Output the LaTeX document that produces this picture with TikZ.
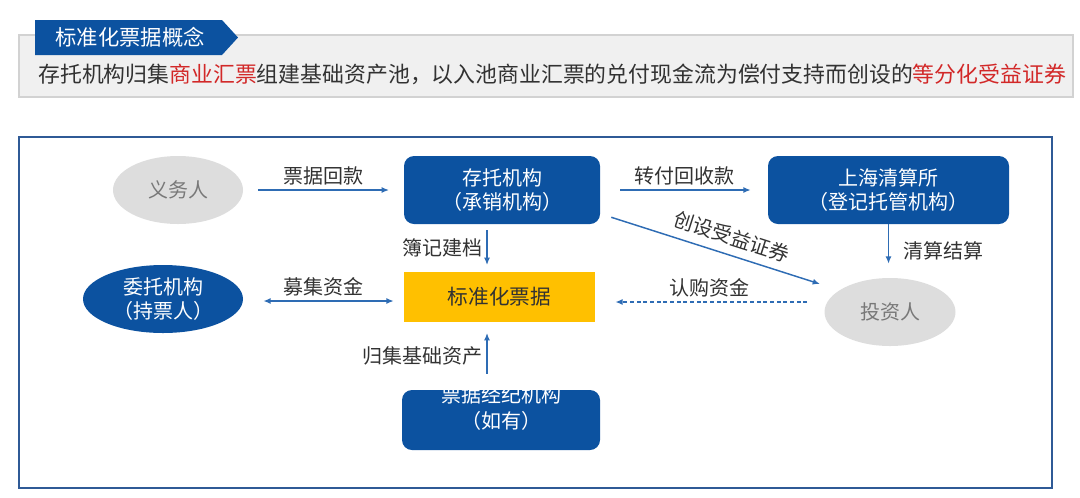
\documentclass[tikz,border=0pt]{standalone}
\usepackage{fontspec}
\setmainfont{Noto Sans CJK SC}
\usetikzlibrary{arrows.meta, positioning, shapes.geometric}
\definecolor{boxblue}{RGB}{12, 82, 160}
\definecolor{framblue}{RGB}{47, 90, 150}
\definecolor{arrowblue}{RGB}{46, 108, 180}
\definecolor{ellgray}{RGB}{221, 221, 221}
\definecolor{txtgray}{RGB}{120, 120, 120}
\definecolor{txtdark}{RGB}{50, 50, 50}
\definecolor{billyellow}{RGB}{255, 192, 0}
\definecolor{hired}{RGB}{210, 40, 40}

\begin{document}
\begin{tikzpicture}[
  x=0.75pt, y=-0.75pt,
  orgbox/.style={draw=none, fill=boxblue, rounded corners=7.5pt, align=center, text=white, inner sep=0pt, minimum height=51pt, font=\fontsize{15}{17.5}\selectfont},
  partyell/.style={ellipse, fill=ellgray, inner sep=0pt, minimum height=51pt, text=txtgray, align=center, font=\fontsize{15}{17.5}\selectfont},
  holderell/.style={ellipse, fill=boxblue, inner sep=0pt, minimum height=51pt, text=white, align=center, font=\fontsize{15}{17.5}\selectfont},
  arrow/.style={-{Latex[length=5.5pt, width=4.5pt]}, arrowblue, line width=1.1pt},
  lbl/.style={text=txtdark, inner sep=3pt, font=\fontsize{15}{17.5}\selectfont}
]
\useasboundingbox (0,0) rectangle (1080,497);

% concept banner
\draw[draw={rgb,255:red,210;green,210;blue,210}, fill={rgb,255:red,240;green,240;blue,240}, line width=0.8pt] (19,35) rectangle (1073,97);
\fill[boxblue] (35,20) -- (222,20) -- (238,37.5) -- (222,55) -- (35,55) -- cycle;
\node[text=white, font=\fontsize{16}{18}\selectfont] (title) at (130,37.5) {标准化票据概念};
\node[anchor=west, inner sep=0pt, text=txtdark, font=\fontsize{16.4}{19}\selectfont] (concept) at (38,74)
  {存托机构归集\textcolor{hired}{商业汇票}组建基础资产池，以入池商业汇票的兑付现金流为偿付支持而创设的\textcolor{hired}{等分化受益证券}};

% frame
\draw[framblue, line width=1.3pt] (19,137) rectangle (1052,488);

% parties
\node[partyell, minimum width=97.5pt] (yiwu) at (178,190) {义务人};
\node[orgbox, minimum width=147pt] (deposit) at (502,190) {存托机构\\（承销机构）};
\node[orgbox, minimum width=180.75pt] (clearing) at (888.5,190) {上海清算所\\（登记托管机构）};
\node[holderell, minimum width=120pt] (weituo) at (163,299) {委托机构\\（持票人）};
\node[fill=billyellow, minimum width=143.25pt, minimum height=37.5pt, inner sep=0pt, text=txtdark, font=\fontsize{15.5}{18}\selectfont] (std) at (499.5,297) {标准化票据};
\node[partyell, minimum width=98.25pt] (investor) at (890,312) {投资人};
\node[orgbox, minimum width=148.5pt, minimum height=45pt] (broker) at (501,420) {};
\node[align=center, text=white, inner sep=0pt, font=\fontsize{15}{20}\selectfont] (brokertext) at (501,408) {票据经纪机构\\（如有）};

% flows
\draw[arrow, shorten <=11pt, shorten >=11pt] (yiwu.east) -- (deposit.west)
  node[midway, above, lbl] {票据回款};
\draw[arrow, shorten <=15pt, shorten >=12.75pt] (deposit.east) -- (clearing.west)
  node[midway, above, lbl] {转付回收款};
\draw[arrow, shorten <=4.5pt, shorten >=5pt] ([xshift=-11.25pt]deposit.south) -- ([xshift=-11.25pt]deposit.south |- std.north)
  node[midway, left, lbl] {簿记建档};
\draw[arrow, shorten <=12pt, shorten >=8pt] ([xshift=-10.5pt]broker.north) -- ([xshift=-10.5pt]broker.north |- std.south)
  node[midway, left, lbl] {归集基础资产};
\draw[arrow, {Latex[length=5.5pt, width=4.5pt]}-{Latex[length=5.5pt, width=4.5pt]}, shorten <=15pt, shorten >=7.5pt] (weituo.east |- 0,301) -- (std.west |- 0,301)
  node[midway, above, lbl] {募集资金};
\draw[arrow, dash pattern=on 3pt off 2pt, shorten <=12.75pt, shorten >=15pt] (investor.west |- 0,302) -- (std.east |- 0,302)
  node[midway, above, lbl] {认购资金};
\draw[arrow, shorten >=10.5pt] (clearing.south) -- (clearing.south |- investor.north)
  node[midway, right, lbl, xshift=8pt] {清算结算};
\draw[arrow] ([shift={(11,-7)}]deposit.south east) -- ([shift={(-70,-28)}]investor.center)
  node[pos=0.55, above=3pt, sloped, lbl] {创设受益证券};
\end{tikzpicture}
\end{document}
